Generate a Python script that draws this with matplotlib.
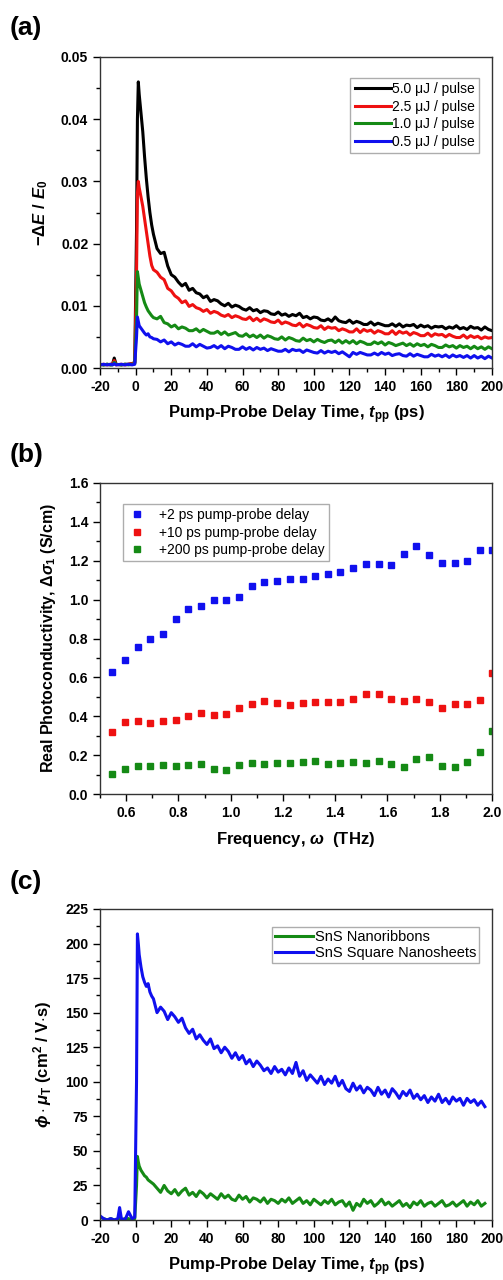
import numpy as np
import matplotlib
matplotlib.use('Agg')
from matplotlib import pyplot as plt
from matplotlib.ticker import MultipleLocator

plt.rcParams['font.family'] = ['Liberation Sans', 'DejaVu Sans']
plt.rcParams['mathtext.fontset'] = 'custom'
plt.rcParams['mathtext.rm'] = 'Liberation Sans:bold'
plt.rcParams['mathtext.it'] = 'Liberation Sans:italic:bold'
plt.rcParams['mathtext.bf'] = 'Liberation Sans:bold'
plt.rcParams['axes.unicode_minus'] = False

# ---------------- panel (a) : -dE/E0 (x 1e-3) vs delay ----------------
t_a = np.concatenate([[-20, -18, -16, -14, -13, -12, -11, -8, -6, -4, -2, -0.5],
                      [0.5, 1, 1.5, 2, 3, 4, 5, 6, 7, 8, 9, 10],
                      np.arange(12, 201, 2)])

black_a = [0.6, 0.5, 0.6, 0.5, 0.6, 1.6, 0.6, 0.5, 0.6, 0.6, 0.7, 0.9,
           22, 40, 46, 44, 41, 38, 34, 30.5, 27.5, 25, 23, 21.5,
           19.2, 18.4, 18.6, 16.4, 15.0, 14.6, 13.8, 13.2, 13.6, 12.5,
           12.8, 12.1, 11.9, 11.3, 11.6, 10.7, 11.0, 10.8, 10.3, 10.0,
           10.4, 9.8, 10.1, 9.9, 9.5, 9.3, 9.7, 9.2, 9.4, 8.9,
           9.2, 9.1, 8.7, 8.6, 9.0, 8.5, 8.7, 8.3, 8.6, 8.4,
           8.8, 8.1, 8.3, 7.9, 8.2, 8.1, 7.7, 7.6, 7.9, 7.5,
           8.2, 7.6, 7.4, 7.3, 7.7, 7.2, 7.5, 7.3, 7.0, 7.0,
           7.4, 6.9, 7.2, 7.0, 6.8, 6.8, 7.1, 6.7, 7.1, 6.6,
           6.9, 6.8, 7.0, 6.5, 6.9, 6.6, 6.8, 6.4, 6.7, 6.6,
           6.7, 6.3, 6.6, 6.4, 6.8, 6.3, 6.5, 6.2, 6.7, 6.4,
           6.5, 6.1, 6.6, 6.2, 6.0]

red_a = [0.5, 0.6, 0.5, 0.6, 0.6, 1.2, 0.5, 0.6, 0.5, 0.6, 0.7, 0.8,
         15, 28, 30, 29, 27.5, 26, 24, 22, 20, 18, 16.5, 15.8,
         15.4, 14.6, 14.2, 12.8, 12.4, 11.6, 11.2, 10.5, 10.8, 9.9,
         10.2, 9.7, 9.5, 9.1, 9.4, 8.8, 9.1, 8.9, 8.5, 8.3,
         8.6, 8.1, 8.4, 8.2, 7.9, 7.8, 8.2, 7.6, 8.0, 7.5,
         7.9, 7.7, 7.4, 7.3, 7.7, 7.1, 7.4, 7.2, 6.9, 6.8,
         7.2, 6.6, 7.0, 6.8, 6.5, 6.4, 6.8, 6.2, 6.6, 6.4,
         6.5, 6.0, 6.3, 6.1, 5.8, 5.8, 6.3, 5.7, 6.2, 5.9,
         6.1, 5.6, 6.0, 5.8, 5.5, 5.5, 6.0, 5.4, 5.9, 5.6,
         5.8, 5.3, 5.7, 5.5, 5.2, 5.2, 5.6, 5.1, 5.5, 5.3,
         5.4, 5.0, 5.4, 5.1, 4.9, 4.9, 5.3, 4.8, 5.2, 4.9,
         5.1, 4.7, 5.0, 4.8, 4.9]

green_a = [0.6, 0.5, 0.6, 0.5, 0.5, 0.9, 0.6, 0.5, 0.6, 0.5, 0.6, 0.7,
           8, 15.5, 14.5, 13.5, 12.5, 11.5, 10.5, 9.8, 9.2, 8.8, 8.4, 8.1,
           7.9, 8.3, 7.3, 7.1, 6.6, 6.9, 6.3, 6.6, 6.4, 6.0,
           6.0, 6.3, 5.8, 6.2, 5.9, 5.6, 5.6, 5.9, 5.4, 5.8,
           5.3, 5.5, 5.7, 5.2, 5.1, 5.5, 5.0, 5.3, 4.9, 5.3,
           4.8, 5.2, 5.0, 4.7, 4.6, 5.0, 4.5, 4.9, 4.7, 4.4,
           4.3, 4.8, 4.4, 4.6, 4.2, 4.6, 4.3, 4.1, 4.4, 4.5,
           4.1, 4.5, 4.0, 4.4, 4.0, 4.4, 3.9, 4.3, 4.1, 3.8,
           3.8, 4.2, 3.9, 4.2, 3.7, 4.1, 3.9, 3.6, 3.8, 4.0,
           3.6, 3.9, 3.5, 3.9, 3.6, 3.8, 3.4, 3.8, 3.6, 3.3,
           3.3, 3.7, 3.4, 3.6, 3.2, 3.6, 3.3, 3.5, 3.1, 3.5,
           3.1, 3.4, 3.0, 3.4, 3.1]

blue_a = [0.5, 0.6, 0.5, 0.6, 0.5, 0.7, 0.5, 0.6, 0.5, 0.6, 0.5, 0.6,
          5, 8.2, 7.5, 6.8, 6.4, 6.0, 5.6, 5.3, 5.5, 5.0, 4.9, 4.7,
          4.6, 4.2, 4.5, 3.9, 4.2, 3.7, 4.0, 3.8, 3.5, 3.5,
          3.9, 3.4, 3.8, 3.5, 3.2, 3.3, 3.6, 3.2, 3.6, 3.1,
          3.5, 3.3, 3.0, 3.0, 3.4, 3.0, 3.3, 2.9, 3.3, 3.0,
          3.2, 2.8, 3.1, 2.9, 2.7, 2.7, 3.0, 2.6, 3.0, 2.8,
          2.9, 2.5, 2.9, 2.7, 2.5, 2.4, 2.8, 2.4, 2.7, 2.5,
          2.7, 2.3, 2.6, 2.2, 1.8, 2.5, 2.2, 2.5, 2.3, 2.1,
          2.1, 2.4, 2.1, 2.5, 2.2, 2.4, 2.0, 2.2, 2.3, 2.0,
          1.9, 2.3, 1.9, 2.2, 2.0, 1.8, 1.8, 2.2, 1.9, 2.1,
          1.8, 2.1, 1.7, 2.1, 1.8, 2.0, 1.7, 2.0, 1.6, 2.0,
          1.6, 1.9, 1.5, 1.9, 1.6]

labels_a = ['5.0 μJ / pulse', '2.5 μJ / pulse', '1.0 μJ / pulse', '0.5 μJ / pulse']

# ---------------- panel (b) : photoconductivity spectra ----------------
freq = [0.547, 0.596, 0.644, 0.693, 0.741, 0.790, 0.838, 0.887, 0.935, 0.984,
        1.032, 1.081, 1.129, 1.178, 1.226, 1.275, 1.323, 1.372, 1.420, 1.469,
        1.517, 1.566, 1.614, 1.663, 1.711, 1.760, 1.808, 1.857, 1.905, 1.954, 2.0]
sig_2ps = [0.626, 0.688, 0.758, 0.796, 0.823, 0.900, 0.950, 0.969, 0.996, 0.998,
           1.016, 1.068, 1.092, 1.097, 1.104, 1.107, 1.119, 1.131, 1.143, 1.162,
           1.182, 1.181, 1.179, 1.234, 1.277, 1.230, 1.188, 1.188, 1.200, 1.254, 1.253]
sig_10ps = [0.317, 0.368, 0.376, 0.364, 0.375, 0.383, 0.402, 0.416, 0.407, 0.414,
            0.440, 0.465, 0.479, 0.467, 0.460, 0.467, 0.474, 0.471, 0.472, 0.491,
            0.513, 0.515, 0.491, 0.479, 0.489, 0.472, 0.445, 0.464, 0.464, 0.484, 0.621]
sig_200ps = [0.101, 0.130, 0.144, 0.144, 0.147, 0.142, 0.147, 0.154, 0.130, 0.121,
             0.147, 0.157, 0.156, 0.159, 0.159, 0.164, 0.168, 0.154, 0.159, 0.166,
             0.159, 0.171, 0.156, 0.137, 0.178, 0.188, 0.144, 0.140, 0.164, 0.216, 0.322]
labels_b = ['+2 ps pump-probe delay', '+10 ps pump-probe delay', '+200 ps pump-probe delay']

# ---------------- panel (c) : phi*mu vs delay ----------------
t_c = np.concatenate([[-20, -18, -16, -14, -12, -10, -9, -8, -6, -4, -2, -0.5],
                      [0.5, 1, 1.5, 2, 3, 4, 5, 6, 7, 8, 9, 10],
                      np.arange(12, 197, 2)])

ribbons = [2, 1, 0, 1, 0, 0, 2, 0, 1, 1, 0, 1,
           25, 46, 42, 39, 36, 34, 32, 31, 29, 28, 27, 26,
           23, 20, 25, 21, 19, 22, 18, 21, 23, 18,
           20, 17, 21, 19, 16, 19, 17, 15, 19, 16,
           18, 15, 14, 18, 15, 17, 13, 16, 15, 13,
           16, 12, 15, 14, 12, 15, 13, 16, 12, 14,
           16, 12, 14, 11, 15, 13, 11, 14, 12, 15,
           11, 13, 14, 10, 13, 7, 12, 10, 15, 12,
           14, 10, 12, 15, 11, 13, 10, 12, 14, 10,
           12, 9, 13, 11, 14, 10, 12, 13, 10, 12,
           14, 10, 11, 13, 10, 12, 14, 10, 13, 11,
           14, 10, 12]

sheets = [3, 1, 0, 1, 0, 1, 9, 1, 0, 6, 1, 2,
          100, 207, 200, 192, 183, 176, 172, 169, 171, 165, 162, 160,
          150, 154, 151, 145, 150, 147, 143, 146, 139, 135,
          138, 131, 134, 130, 127, 131, 124, 126, 121, 125,
          122, 117, 121, 116, 119, 113, 116, 111, 115, 112,
          108, 110, 106, 111, 107, 109, 105, 110, 106, 114,
          104, 108, 101, 105, 102, 99, 104, 98, 102, 99,
          104, 97, 101, 95, 93, 99, 94, 97, 92, 96,
          94, 90, 96, 91, 94, 89, 95, 92, 88, 93,
          90, 94, 88, 91, 87, 90, 85, 89, 86, 91,
          85, 88, 84, 89, 86, 88, 83, 88, 85, 87,
          83, 86, 82]
labels_c = ['SnS Nanoribbons', 'SnS Square Nanosheets']

green = '#158a15'
red = '#ee1111'
blue = '#1010ee'

fig = plt.figure(figsize=(5.03, 12.8), dpi=100)
W, H = 503.0, 1280.0


def make_axes(top_px):
    return fig.add_axes([100 / W, 1 - (top_px + 311) / H, 392 / W, 311 / H])


def style(ax):
    ax.tick_params(which='both', direction='out', top=False, right=False, labelsize=10)
    ax.tick_params(which='major', length=5, width=1)
    ax.tick_params(which='minor', length=3, width=1)
    for lab in ax.get_xticklabels() + ax.get_yticklabels():
        lab.set_fontweight('bold')
    for sp in ax.spines.values():
        sp.set_linewidth(1.0)
        sp.set_color('#333333')


# (a)
ax = make_axes(57)
for y, c, lab in zip([black_a, red_a, green_a, blue_a], ['black', red, green, blue], labels_a):
    ax.plot(t_a, np.array(y) / 1000.0, color=c, lw=2.2, label=lab)
ax.set_xlim(-20, 200)
ax.set_ylim(0, 0.05)
ax.xaxis.set_major_locator(MultipleLocator(20))
ax.xaxis.set_minor_locator(MultipleLocator(10))
ax.yaxis.set_major_locator(MultipleLocator(0.01))
ax.yaxis.set_minor_locator(MultipleLocator(0.005))
ax.set_yticks(ax.get_yticks())
ax.set_yticklabels(['%.2f' % v for v in ax.get_yticks()])
ax.set_ylim(0, 0.05)
style(ax)
ax.set_xlabel(r'Pump-Probe Delay Time, $t_{\mathrm{pp}}$ (ps)', fontsize=12, fontweight='bold', labelpad=7)
ax.set_ylabel(r'$-\Delta E\ /\ E_0$', fontsize=12, fontweight='bold', labelpad=8)
ax.legend(loc='upper right', fontsize=10, handlelength=2.6, handletextpad=0.1, borderpad=0.3,
          labelspacing=0.25, fancybox=False, edgecolor='#999999', bbox_to_anchor=(0.985, 0.955))
fig.text(10 / W, 1 - 28 / H, '(a)', fontsize=19, fontweight='bold', va='center', ha='left')

# (b)
ax = make_axes(483)
for y, c, lab in zip([sig_2ps, sig_10ps, sig_200ps], [blue, red, green], labels_b):
    ax.plot(freq, y, 's', color=c, ms=4.5, mec=c, label=lab)
ax.set_xlim(0.5, 2.0)
ax.set_ylim(0, 1.6)
ax.xaxis.set_major_locator(MultipleLocator(0.2))
ax.xaxis.set_minor_locator(MultipleLocator(0.1))
ax.yaxis.set_major_locator(MultipleLocator(0.2))
ax.yaxis.set_minor_locator(MultipleLocator(0.1))
ax.set_xticks([0.6, 0.8, 1.0, 1.2, 1.4, 1.6, 1.8, 2.0])
ax.set_xticklabels(['0.6', '0.8', '1.0', '1.2', '1.4', '1.6', '1.8', '2.0'])
ax.set_xlim(0.5, 2.0)
style(ax)
ax.set_xlabel(r'Frequency, $\omega$  (THz)', fontsize=12, fontweight='bold', labelpad=7)
ax.set_ylabel(r'Real Photoconductivity, $\Delta\sigma_1$ (S/cm)', fontsize=11.5, fontweight='bold', labelpad=8)
ax.legend(loc='upper left', fontsize=10, handlelength=1.5, handletextpad=0.8, borderpad=0.3,
          labelspacing=0.25, fancybox=False, edgecolor='#999999', bbox_to_anchor=(0.04, 0.955))
fig.text(10 / W, 1 - 455 / H, '(b)', fontsize=19, fontweight='bold', va='center', ha='left')

# (c)
ax = make_axes(909)
ax.plot(t_c, ribbons, color=green, lw=2.2, label=labels_c[0])
ax.plot(t_c, sheets, color=blue, lw=2.2, label=labels_c[1])
ax.set_xlim(-20, 200)
ax.set_ylim(0, 225)
ax.xaxis.set_major_locator(MultipleLocator(20))
ax.xaxis.set_minor_locator(MultipleLocator(10))
ax.yaxis.set_major_locator(MultipleLocator(25))
ax.yaxis.set_minor_locator(MultipleLocator(12.5))
style(ax)
ax.set_xlabel(r'Pump-Probe Delay Time, $t_{\mathrm{pp}}$ (ps)', fontsize=12, fontweight='bold', labelpad=7)
ax.set_ylabel(r'$\phi\cdot\mu_{\mathrm{T}}$ (cm$^2$ / V$\cdot$s)', fontsize=12, fontweight='bold', labelpad=8)
ax.legend(loc='upper right', fontsize=10.5, handlelength=2.6, handletextpad=0.1, borderpad=0.2,
          labelspacing=0.15, fancybox=False, edgecolor='#999999', bbox_to_anchor=(0.985, 0.965))
fig.text(10 / W, 1 - 882 / H, '(c)', fontsize=19, fontweight='bold', va='center', ha='left')

fig.savefig('out.png', dpi=100, facecolor='white')
